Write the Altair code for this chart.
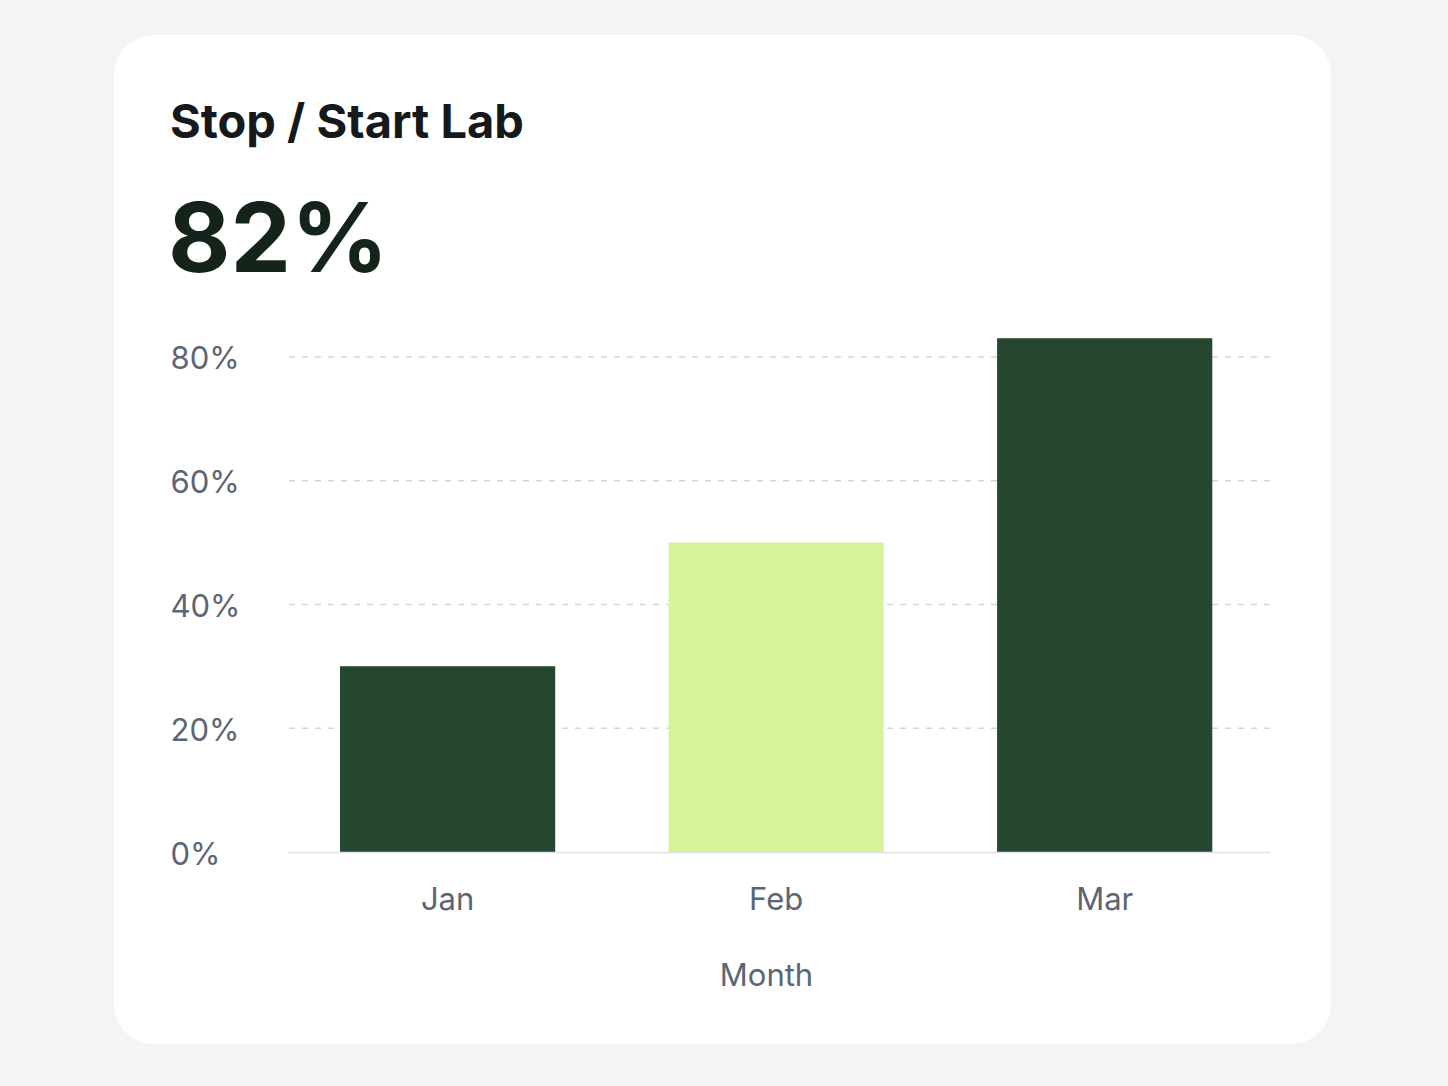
import altair as alt
import pandas as pd

# Monthly share values (fractions of 1)
months = ["Jan", "Feb", "Mar"]
shares = [0.30, 0.50, 0.83]
highlight = ["no", "yes", "no"]
y_ticks = [0.0, 0.2, 0.4, 0.6, 0.8]
grid_values = [0.2, 0.4, 0.6, 0.8]

card_title = "Stop / Start Lab"
headline = "82%"

FONT = "Inter"
DARK = "#25472f"
LIGHT = "#d8f29a"
LABEL = "#5c6573"

W, H = 982, 557
PAD_L, PAD_T = 288, 295
PAD_R = 1448 - PAD_L - W
PAD_B = 1086 - PAD_T - H

bars_df = pd.DataFrame({"Month": months, "Share": shares, "Highlight": highlight})
grid_df = pd.DataFrame({"v": grid_values})

y_scale = alt.Scale(domain=[0, 0.9], nice=False, zero=True)
x_scale = alt.Scale(paddingInner=0.345, paddingOuter=0.167, align=0.474)

# White rounded card behind everything
card = alt.Chart(alt.Data(values=[{}])).mark_rect(
    fill="#ffffff", cornerRadius=40
).encode(
    x=alt.value(114 - PAD_L), x2=alt.value(1331 - PAD_L),
    y=alt.value(35 - PAD_T), y2=alt.value(1044 - PAD_T),
)

# Dashed horizontal gridlines
grid = alt.Chart(grid_df).mark_rule(
    color="#d3d7dd", strokeWidth=1.5, strokeDash=[6, 7]
).encode(y=alt.Y("v:Q", scale=y_scale))

bars = alt.Chart(bars_df).mark_bar().encode(
    x=alt.X(
        "Month:N", sort=months, scale=x_scale,
        axis=alt.Axis(
            title="Month", labelAngle=0, ticks=False, tickSize=0,
            labelPadding=57, labelBaseline="alphabetic",
            labelFont=FONT, labelFontSize=31, labelColor=LABEL,
            titleFont=FONT, titleFontSize=31, titleFontWeight="normal",
            titleColor=LABEL, titleX=478, titleY=133,
            titleBaseline="alphabetic", titleAlign="center",
            domain=True, domainColor="#dfe2e6", domainWidth=1.5,
            grid=False, zindex=1,
        ),
    ),
    y=alt.Y(
        "Share:Q", scale=y_scale,
        axis=alt.Axis(
            title=None, values=y_ticks, format=".0%", ticks=False, tickSize=0,
            labelAlign="left", labelBaseline="middle", labelPadding=118,
            labelOffset=3,
            labelFont=FONT, labelFontSize=31, labelColor=LABEL,
            domain=False, grid=False, zindex=1,
        ),
    ),
    color=alt.Color(
        "Highlight:N",
        scale=alt.Scale(domain=["no", "yes"], range=[DARK, LIGHT]),
        legend=None,
    ),
)

title_text = alt.Chart(alt.Data(values=[{"t": card_title}])).mark_text(
    align="left", baseline="alphabetic", font=FONT, fontSize=47,
    fontWeight="bold", color="#16191b",
).encode(x=alt.value(170 - PAD_L), y=alt.value(138 - PAD_T), text="t:N")

headline_text = alt.Chart(alt.Data(values=[{"t": headline}])).mark_text(
    align="left", baseline="alphabetic", font=FONT, fontSize=96,
    fontWeight="bold", color="#14241a",
).encode(x=alt.value(168 - PAD_L), y=alt.value(272 - PAD_T), text="t:N")

chart = alt.layer(card, grid, bars, title_text, headline_text).properties(
    width=W, height=H,
    autosize=alt.AutoSizeParams(type="none"),
    padding={"left": PAD_L, "top": PAD_T, "right": PAD_R, "bottom": PAD_B},
    background="#f4f4f4",
).configure_view(stroke=None)

chart.save("out.html", embed_options={"renderer": "svg", "actions": False})
